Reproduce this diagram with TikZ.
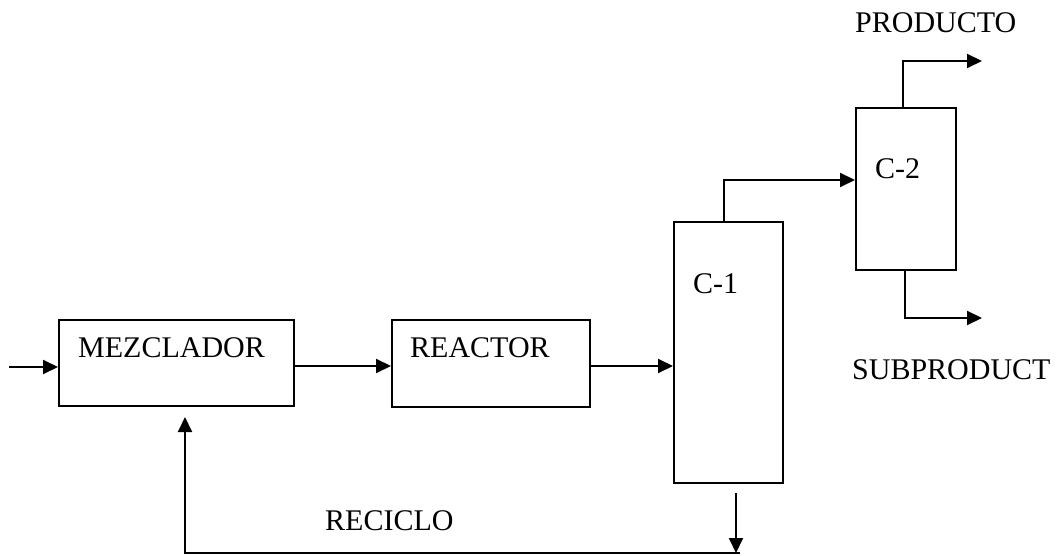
\documentclass[tikz,border=0pt]{standalone}
\usepackage{fontspec}
\setmainfont{Liberation Serif}
\usetikzlibrary{arrows.meta}
\begin{document}
\begin{tikzpicture}[x=1pt,y=-1pt,
  box/.style={draw,line width=2pt,inner sep=0pt,anchor=north west},
  lbl/.style={inner sep=0pt,anchor=base west,font=\fontsize{30}{32}\selectfont},
  flow/.style={line width=2pt,-{Triangle[length=15pt,width=14pt]}},
  pipe/.style={line width=2pt}]
\useasboundingbox (0,0) rectangle (1063,556);
% units
\node[box,minimum width=235pt,minimum height=86pt] (mez) at (58,319) {};
\node[box,minimum width=198pt,minimum height=87pt] (reac) at (391,319) {};
\node[box,minimum width=109pt,minimum height=261pt] (c1) at (673,221) {};
\node[box,minimum width=100pt,minimum height=162pt] (c2) at (855,107) {};
% labels
\node[lbl] (tmez) at (78,357) {MEZCLADOR};
\node[lbl] (treac) at (410,357) {REACTOR};
\node[lbl] (tc1) at (693,293) {C-1};
\node[lbl] (tc2) at (875,179) {C-2};
\node[lbl] (tprod) at (855,33) {PRODUCTO};
\node[lbl] (tsub) at (852,379) {SUBPRODUCT};
\node[lbl] (trec) at (325,530) {RECICLO};
% coordinates
\coordinate (in) at (9,367);
\coordinate (c1top) at (724,221);
\coordinate (c1up) at (724,180);
\coordinate (c2top) at (903,107);
\coordinate (prodbend) at (903,61);
\coordinate (prodend) at (982,61);
\coordinate (c2bot) at (905,269);
\coordinate (subbend) at (905,318);
\coordinate (subend) at (982,318);
\coordinate (c1out) at (736,493);
\coordinate (c1outend) at (736,553);
\coordinate (recright) at (740,553);
\coordinate (recleft) at (185,553);
\coordinate (recend) at (185,417);
% connectors
\draw[flow] (in) -- (mez.west |- in);
\draw[flow] (mez.east |- 0,366) -- (reac.west |- 0,366);
\draw[flow] (reac.east |- 0,366) -- (c1.west |- 0,366);
\draw[flow] (c1top) -- (c1up) -- (c2.west |- c1up);
\draw[flow] (c2top) -- (prodbend) -- (prodend);
\draw[flow] (c2bot) -- (subbend) -- (subend);
\draw[flow] (c1out) -- (c1outend);
\draw[flow] (recright) -- (recleft) -- (recend);
\end{tikzpicture}
\end{document}
